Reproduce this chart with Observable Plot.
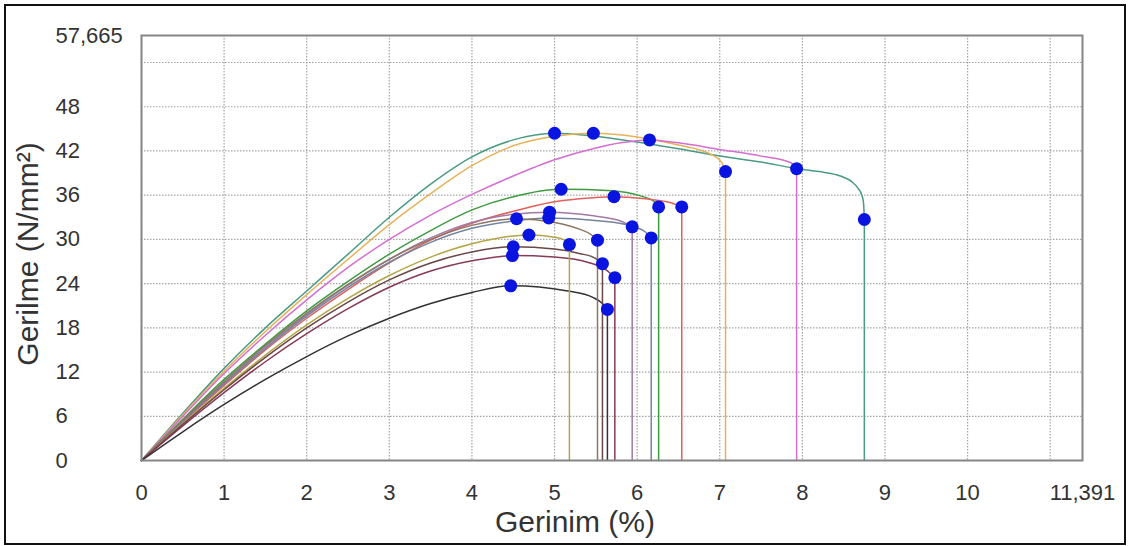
<!DOCTYPE html>
<html>
<head>
<meta charset="utf-8">
<script src="https://cdn.jsdelivr.net/npm/d3@7"></script>
<script src="https://cdn.jsdelivr.net/npm/@observablehq/plot@0.6"></script>
<style>
  html, body { margin: 0; padding: 0; background: #fff; }
  #wrap { position: relative; width: 1130px; height: 546px; overflow: hidden; }
  #border { position: absolute; left: 4px; top: 4px; width: 1122px; height: 541px; box-sizing: border-box; border: 2px solid #111; pointer-events: none; }
</style>
</head>
<body>
<div id="wrap"><div id="border"></div></div>
<script>
// Axis ticks
const xTicks = [0, 1, 2, 3, 4, 5, 6, 7, 8, 9, 10, 11.391];
const xGrid = [0, 1, 2, 3, 4, 5, 6, 7, 8, 9, 10, 11];
const yTicks = [0, 6, 12, 18, 24, 30, 36, 42, 48, 57.665];
const yGrid = [0, 6, 12, 18, 24, 30, 36, 42, 48, 54];

// Specimens (curves) and colours
const curveNames = ["T", "O", "M", "G2", "R", "Mv", "GB", "Br", "Ol", "DB", "Ma", "Bk"];
const curveColors = ["#4a9a84", "#e6b25a", "#d46ed0", "#3f9a42", "#e0605c", "#a27aa6", "#74849e", "#8c7664", "#b3a646", "#6a4648", "#863a58", "#333333"];

// Strain (%) / stress (N/mm2) per specimen
const strainT = [0, 0.5, 1, 1.5, 2, 2.5, 3, 3.5, 4, 4.5, 5.0, 5.5, 6, 6.5, 7, 7.5, 7.94, 8.2, 8.46, 8.6, 8.67, 8.72, 8.74, 8.75];
const stressT = [0, 6.4, 12.5, 18, 23, 28, 33, 37.5, 41.2, 43.5, 44.4, 44.0, 43.2, 42.3, 41.3, 40.5, 39.6, 39.2, 38.6, 37.8, 37.0, 36.0, 35.0, 32.7];

const strainO = [0, 0.5, 1, 1.5, 2, 2.5, 3, 3.5, 4, 4.5, 5, 5.47, 6, 6.5, 6.9, 7.02, 7.07];
const stressO = [0, 6.2, 12.1, 17.5, 22.5, 27.3, 32, 36.2, 40.0, 42.7, 44.0, 44.4, 43.9, 42.8, 41.5, 40.5, 39.2];

const strainM = [0, 0.5, 1, 1.5, 2, 2.5, 3, 3.5, 4, 4.5, 5, 5.5, 5.8, 6.15, 6.5, 7, 7.5, 7.86, 7.93];
const stressM = [0, 6.0, 11.8, 17, 21.8, 26.2, 30.0, 33.3, 36.1, 38.6, 40.8, 42.4, 43.1, 43.5, 43.1, 42.2, 41.3, 40.4, 39.6];

const strainG2 = [0, 0.5, 1, 1.5, 2, 2.5, 3, 3.5, 4, 4.5, 5.08, 5.7, 6.04, 6.2, 6.26];
const stressG2 = [0, 5.6, 11, 15.8, 20.3, 24.3, 28, 31.2, 34.0, 35.8, 36.8, 36.6, 35.9, 35.2, 34.4];

const strainR = [0, 0.5, 1, 1.5, 2, 2.5, 3, 3.5, 4, 4.53, 4.95, 5.3, 5.72, 6.1, 6.4, 6.54];
const stressR = [0, 5.2, 10.2, 15, 19.3, 23.2, 26.8, 29.9, 32.2, 33.9, 35.0, 35.5, 35.8, 35.5, 35.0, 34.4];

const strainMv = [0, 0.5, 1, 1.5, 2, 2.5, 3, 3.5, 4, 4.5, 4.94, 5.47, 5.8, 5.94];
const stressMv = [0, 5.4, 10.5, 15.4, 19.8, 23.8, 27.3, 30.2, 32.3, 33.4, 33.7, 33.2, 32.5, 31.7];

const strainGB = [0, 0.5, 1, 1.5, 2, 2.5, 3, 3.5, 4, 4.5, 4.93, 5.56, 5.9, 6.1, 6.17];
const stressGB = [0, 5.3, 10.4, 15.2, 19.6, 23.5, 26.9, 29.6, 31.5, 32.5, 32.9, 32.5, 31.9, 31.0, 30.2];

const strainBr = [0, 0.5, 1, 1.5, 2, 2.5, 3, 3.5, 4, 4.54, 5.0, 5.3, 5.45, 5.52];
const stressBr = [0, 5.5, 10.7, 15.6, 20.0, 23.9, 27.3, 30.0, 31.9, 32.8, 32.3, 31.4, 30.6, 29.9];

const strainOl = [0, 0.5, 1, 1.5, 2, 2.5, 3, 3.5, 4, 4.69, 5.0, 5.12, 5.18];
const stressOl = [0, 5.0, 9.8, 14.3, 18.4, 22.0, 25.1, 27.6, 29.4, 30.6, 30.3, 29.9, 29.3];

const strainDB = [0, 0.5, 1, 1.5, 2, 2.5, 3, 3.5, 4, 4.5, 5.0, 5.3, 5.5, 5.58];
const stressDB = [0, 4.9, 9.6, 14.0, 18.0, 21.5, 24.5, 26.8, 28.3, 29.0, 28.7, 28.1, 27.4, 26.7];

const strainMa = [0, 0.5, 1, 1.5, 2, 2.5, 3, 3.5, 4, 4.49, 5.0, 5.4, 5.62, 5.73];
const stressMa = [0, 4.7, 9.2, 13.4, 17.2, 20.6, 23.5, 25.7, 27.1, 27.8, 27.6, 26.9, 25.9, 24.8];

const strainBk = [0, 0.5, 1, 1.5, 2, 2.5, 3, 3.5, 4, 4.47, 5.16, 5.47, 5.58, 5.64];
const stressBk = [0, 3.9, 7.6, 11.0, 14.1, 16.9, 19.3, 21.3, 22.8, 23.7, 23.0, 22.1, 21.3, 20.5];

const strains = [strainT, strainO, strainM, strainG2, strainR, strainMv, strainGB, strainBr, strainOl, strainDB, strainMa, strainBk];
const stresses = [stressT, stressO, stressM, stressG2, stressR, stressMv, stressGB, stressBr, stressOl, stressDB, stressMa, stressBk];

// Build tables
const rows = [], drops = [], dots = [];
curveNames.forEach((name, i) => {
  const xs = strains[i], ys = stresses[i];
  xs.forEach((x, j) => rows.push({curve: name, x, y: ys[j]}));
  const n = xs.length - 1;
  drops.push({curve: name, x: xs[n], y: ys[n]});
  drops.push({curve: name, x: xs[n], y: 0});
  const k = d3.maxIndex(ys);
  dots.push({x: xs[k], y: ys[k]});
  dots.push({x: xs[n], y: ys[n]});
});

const fmt = d => String(d).replace(".", ",");
const font = "'Liberation Sans', Arial, Helvetica, sans-serif";

const chart = Plot.plot({
  width: 1130,
  height: 546,
  marginLeft: 141,
  marginRight: 48,
  marginTop: 35,
  marginBottom: 86,
  style: {fontFamily: font, background: "transparent", overflow: "visible"},
  x: {domain: [0, 11.391], axis: null},
  y: {domain: [0, 57.665], axis: null},
  color: {type: "ordinal", domain: curveNames, range: curveColors},
  marks: [
    Plot.gridX(xGrid, {stroke: "#9a9a9a", strokeOpacity: 0.9, strokeWidth: 1.2, strokeDasharray: "1.5,1.5"}),
    Plot.gridY(yGrid, {stroke: "#9a9a9a", strokeOpacity: 0.9, strokeWidth: 1.2, strokeDasharray: "1.5,1.5"}),
    Plot.line(rows, {x: "x", y: "y", z: "curve", stroke: "curve", strokeWidth: 1.5, curve: "monotone-x"}),
    Plot.line(drops, {x: "x", y: "y", z: "curve", stroke: "curve", strokeWidth: 1.5}),
    Plot.frame({stroke: "#858585", strokeWidth: 2}),
    Plot.dot(dots, {x: "x", y: "y", r: 6.5, fill: "#0a14e0", stroke: "none"}),
    Plot.text(yTicks, {y: d => d, text: fmt, frameAnchor: "left", textAnchor: "start", lineAnchor: "middle", dx: -86, fontSize: 22, fill: "#333"}),
    Plot.text(xTicks, {x: d => d, text: fmt, frameAnchor: "bottom", textAnchor: "middle", lineAnchor: "middle", dy: 32, fontSize: 22, fill: "#333"}),
    Plot.text(["Gerinim (%)"], {frameAnchor: "bottom", textAnchor: "middle", lineAnchor: "middle", dy: 62, dx: -37, fontSize: 30, fill: "#333"}),
    Plot.text(["Gerilme (N/mm²)"], {frameAnchor: "left", textAnchor: "middle", lineAnchor: "middle", dx: -113, dy: 6, rotate: -90, fontSize: 30, fill: "#333"})
  ]
});
document.getElementById("wrap").prepend(chart);
</script>
</body>
</html>
